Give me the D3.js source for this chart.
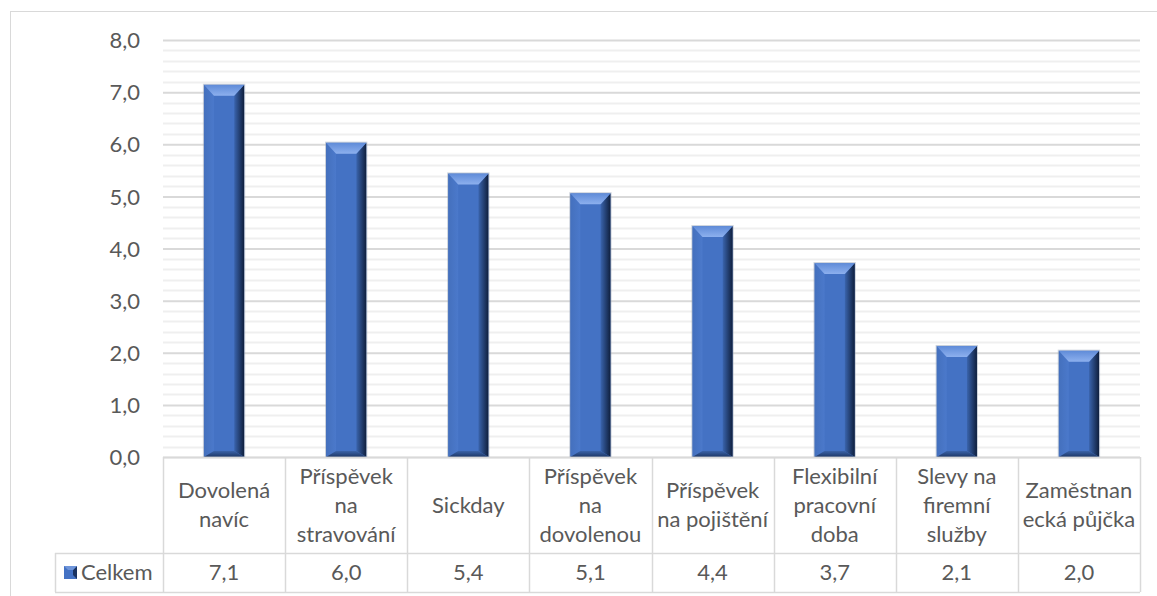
<!DOCTYPE html>
<html>
<head>
<meta charset="utf-8">
<script src="https://cdn.jsdelivr.net/npm/d3@7"></script>
<style>
  html, body { margin: 0; padding: 0; background: #fff; }
  svg { display: block; }
  text { font-family: Lato, "Open Sans", sans-serif; fill: #595959; }
</style>
</head>
<body>
<svg id="chart" width="1157" height="596"></svg>
<script>
// ---- data ----
const categories = ["Dovolená navíc", "Příspěvek na stravování", "Sickday", "Příspěvek na dovolenou",
  "Příspěvek na pojištění", "Flexibilní pracovní doba", "Slevy na firemní služby", "Zaměstnanecká půjčka"];
const categoryLines = [["Dovolená", "navíc"], ["Příspěvek", "na", "stravování"], ["Sickday"],
  ["Příspěvek", "na", "dovolenou"], ["Příspěvek", "na pojištění"], ["Flexibilní", "pracovní", "doba"],
  ["Slevy na", "firemní", "služby"], ["Zaměstnan", "ecká půjčka"]];
const seriesName = "Celkem";
const values = [7.14, 6.03, 5.44, 5.06, 4.43, 3.72, 2.13, 2.04];
const yTicks = [0, 1, 2, 3, 4, 5, 6, 7, 8];

// ---- layout ----
const svg = d3.select("#chart");
const plotL = 163, plotR = 1140, plotT = 40, plotB = 457;
const rowHeadB = 553, rowValB = 592, legendL = 55;
const fs = "22px";
const fmt = v => d3.format(".1f")(v).replace(".", ",");

const x = d3.scaleBand().domain(categories).range([plotL, plotR]).paddingInner(0).paddingOuter(0);
const y = d3.scaleLinear().domain([0, 8]).range([plotB, plotT]);
const barW = x.bandwidth() * 0.33;

// outer chart border
svg.append("rect").attr("x", 10.5).attr("y", 11.5).attr("width", 1200).attr("height", 700)
  .attr("fill", "none").attr("stroke", "#d9d9d9").attr("stroke-width", 1);

// gradients
const defs = svg.append("defs");
const gTop = defs.append("linearGradient").attr("id", "gTop").attr("x1", 0).attr("y1", 0).attr("x2", 0).attr("y2", 1);
gTop.append("stop").attr("offset", "0%").attr("stop-color", "#5f8bd8");
gTop.append("stop").attr("offset", "100%").attr("stop-color", "#8db0ee");
const gRight = defs.append("linearGradient").attr("id", "gRight").attr("x1", 0).attr("y1", 0).attr("x2", 1).attr("y2", 0);
gRight.append("stop").attr("offset", "0%").attr("stop-color", "#3a64ad");
gRight.append("stop").attr("offset", "100%").attr("stop-color", "#0f1f3d");
const gLeft = defs.append("linearGradient").attr("id", "gLeft").attr("x1", 0).attr("y1", 0).attr("x2", 1).attr("y2", 0);
gLeft.append("stop").attr("offset", "0%").attr("stop-color", "#4470bd");
gLeft.append("stop").attr("offset", "100%").attr("stop-color", "#4b79cb");
const gBot = defs.append("linearGradient").attr("id", "gBot").attr("x1", 0).attr("y1", 0).attr("x2", 0).attr("y2", 1);
gBot.append("stop").attr("offset", "0%").attr("stop-color", "#3b63a8");
gBot.append("stop").attr("offset", "100%").attr("stop-color", "#1d3766");

// minor gridlines
const minor = d3.range(0, 8.001, 0.2).filter(v => Math.abs(v - Math.round(v)) > 1e-6);
svg.append("g").selectAll("line").data(minor).join("line")
  .attr("x1", plotL).attr("x2", plotR)
  .attr("y1", d => Math.round(y(d)) + 0.5).attr("y2", d => Math.round(y(d)) + 0.5)
  .attr("stroke", "#efefef").attr("stroke-width", 2);

// major gridlines + tick labels via axis
const axis = d3.axisLeft(y).tickValues(yTicks).tickFormat(fmt).tickSize(-(plotR - plotL)).tickPadding(23);
const ag = svg.append("g").attr("transform", `translate(${plotL},0)`).call(axis);
ag.select(".domain").remove();
ag.selectAll(".tick line").attr("stroke", "#d9d9d9").attr("stroke-width", 2);
ag.selectAll(".tick text").attr("fill", "#595959").style("font-size", fs)
  .style("font-family", "Lato, 'Open Sans', sans-serif").attr("dy", "0.35em");

// bars with bevel
const bars = svg.append("g").selectAll("g").data(values.map((v, i) => ({ v, c: categories[i] }))).join("g");
bars.each(function (d) {
  const g = d3.select(this);
  const x0 = x(d.c) + x.bandwidth() / 2 - barW / 2, x1 = x0 + barW;
  const t = y(d.v), b = y(0);
  const bs = 10, bt = 11;
  g.append("rect").attr("x", x0).attr("y", t).attr("width", barW).attr("height", b - t).attr("fill", "#4472c4");
  g.append("polygon").attr("points", [[x0, t], [x0 + bs, t + bt], [x0 + bs, b - 6], [x0, b]].join(" ")).attr("fill", "url(#gLeft)");
  g.append("polygon").attr("points", [[x1, t], [x1 - bs, t + bt], [x1 - bs, b - 6], [x1, b]].join(" ")).attr("fill", "url(#gRight)");
  g.append("polygon").attr("points", [[x0, b], [x0 + bs, b - 6], [x1 - bs, b - 6], [x1, b]].join(" ")).attr("fill", "url(#gBot)");
  g.append("polygon").attr("points", [[x0, t], [x1, t], [x1 - bs, t + bt], [x0 + bs, t + bt]].join(" ")).attr("fill", "url(#gTop)");
  g.append("rect").attr("x", x0 - 0.5).attr("y", t - 0.5).attr("width", barW + 1).attr("height", b - t + 0.5)
    .attr("fill", "none").attr("stroke", "#9aa6b8").attr("stroke-opacity", 0.5).attr("stroke-width", 1);
});

// data table
const tbl = svg.append("g");
const lineC = "#d9d9d9";
const hl = (x1, x2, yy) => tbl.append("line").attr("x1", x1).attr("x2", x2).attr("y1", yy + 0.5).attr("y2", yy + 0.5).attr("stroke", lineC).attr("stroke-width", 1.5);
const vl = (xx, y1, y2) => tbl.append("line").attr("x1", xx + 0.5).attr("x2", xx + 0.5).attr("y1", y1).attr("y2", y2).attr("stroke", lineC).attr("stroke-width", 1.5);
hl(plotL, plotR, plotB);
hl(legendL, plotR, rowHeadB);
hl(legendL, plotR, rowValB);
vl(legendL, rowHeadB, rowValB);
categories.forEach(c => vl(Math.round(x(c)), plotB, rowValB));
vl(plotR, plotB, rowValB);

// category labels
const lh = 29;
categoryLines.forEach((lines, i) => {
  const cx = x(categories[i]) + x.bandwidth() / 2;
  const cy = (plotB + rowHeadB) / 2;
  const t = tbl.append("text").attr("text-anchor", "middle").style("font-size", fs);
  lines.forEach((ln, j) => {
    t.append("tspan").attr("x", cx).attr("y", cy + (j - (lines.length - 1) / 2) * lh).attr("dy", "0.35em").text(ln);
  });
});

// values row
values.forEach((v, i) => {
  tbl.append("text").attr("x", x(categories[i]) + x.bandwidth() / 2).attr("y", (rowHeadB + rowValB) / 2)
    .attr("dy", "0.35em").attr("text-anchor", "middle").style("font-size", fs).text(fmt(v));
});

// legend key
const kx = 64, ky = 566, ks = 13;
tbl.append("rect").attr("x", kx).attr("y", ky).attr("width", ks).attr("height", ks).attr("fill", "#4472c4");
tbl.append("polygon").attr("points", [[kx + ks, ky], [kx + ks - 4, ky + 4], [kx + ks - 4, ky + ks - 4], [kx + ks, ky + ks]].join(" ")).attr("fill", "#1a3260");
tbl.append("polygon").attr("points", [[kx, ky], [kx + ks, ky], [kx + ks - 4, ky + 4], [kx + 4, ky + 4]].join(" ")).attr("fill", "#6f95da");
tbl.append("text").attr("x", 81).attr("y", (rowHeadB + rowValB) / 2).attr("dy", "0.35em")
  .style("font-size", fs).text(seriesName);
</script>
</body>
</html>
